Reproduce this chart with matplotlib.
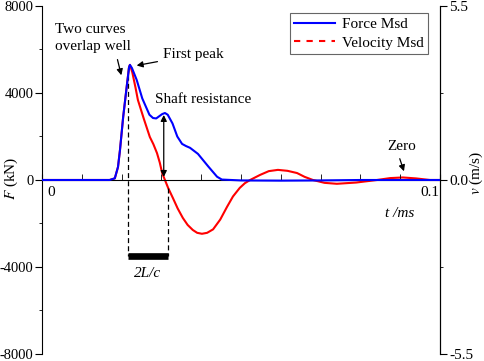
import matplotlib
matplotlib.use("Agg")
import matplotlib.pyplot as plt
from matplotlib.lines import Line2D
from matplotlib.ticker import MultipleLocator
from matplotlib.transforms import ScaledTranslation

plt.rcParams['font.family'] = ['Liberation Serif', 'DejaVu Serif']
plt.rcParams['mathtext.fontset'] = 'stix'
plt.rcParams['axes.unicode_minus'] = False
plt.rcParams['font.size'] = 11

# force curve (kN)
t_force = [0, 0.017, 0.0183, 0.0191, 0.0196, 0.0204, 0.0214, 0.0219, 0.0221, 0.0226,
           0.0238, 0.0252, 0.027, 0.0279, 0.0287, 0.0302, 0.0309, 0.0316, 0.0328,
           0.034, 0.0352, 0.0362, 0.0372, 0.0392, 0.0418, 0.044, 0.0452, 0.05, 0.06,
           0.07, 0.08, 0.09, 0.1]
force = [0, 0, 80, 600, 1380, 2900, 4460, 5200, 5290, 5150,
         4600, 3750, 3000, 2850, 2830, 3030, 3080, 3000, 2600,
         2000, 1660, 1560, 1480, 1200, 620, 150, 20, -20, -30,
         -20, 0, 0, 0]

# velocity curve (m/s)
t_vel = [0, 0.017, 0.0183, 0.0191, 0.0196, 0.0204, 0.0214, 0.0219, 0.0221, 0.0227,
         0.0235, 0.0241, 0.0256, 0.0271, 0.028, 0.0289, 0.0296, 0.0302, 0.0309,
         0.0317, 0.0329, 0.0341, 0.0354, 0.0366, 0.0379, 0.039, 0.0402, 0.0415,
         0.043, 0.0448, 0.0465, 0.048, 0.0497, 0.051, 0.0523, 0.0548, 0.057, 0.0593,
         0.0617, 0.0641, 0.066, 0.0681, 0.071, 0.0741, 0.079, 0.0842, 0.0875,
         0.0907, 0.094, 0.0975, 0.1]
vel = [0, 0, 0.05, 0.41, 0.95, 1.99, 3.07, 3.58, 3.64, 3.40,
       2.92, 2.53, 1.93, 1.36, 1.13, 0.85, 0.55, 0.22, 0.0,
       -0.25, -0.57, -0.9, -1.2, -1.42, -1.58, -1.67, -1.7, -1.67,
       -1.56, -1.25, -0.85, -0.52, -0.25, -0.1, 0.0, 0.16, 0.28, 0.32,
       0.29, 0.22, 0.1, 0.0, -0.09, -0.12, -0.08, 0.0, 0.06,
       0.08, 0.05, 0.0, 0.0]

fig = plt.figure(figsize=(4.84, 3.61), dpi=100)
ax = fig.add_axes([0.0868, 0.0194, 0.822, 0.964])
ax2 = ax.twinx()

ax.plot(t_force, force, color='blue', lw=1.5, zorder=3)
ax2.plot(t_vel, vel, color='red', lw=1.5, zorder=4)

ax.set_xlim(0, 0.1)
ax.set_ylim(-8000, 8000)
ax2.set_ylim(-5.5, 5.5)

# x axis through zero
ax.spines['top'].set_visible(False)
ax.spines['bottom'].set_position(('data', 0))
ax2.spines['top'].set_visible(False)
ax2.spines['bottom'].set_visible(False)
ax2.spines['left'].set_visible(False)
ax.set_zorder(ax2.get_zorder() + 1)
ax.patch.set_visible(False)

ax.set_xticks([0, 0.1], ['0', '0.1'])
ax.xaxis.set_minor_locator(MultipleLocator(0.01))
ax.tick_params(axis='x', which='both', direction='in', length=4, pad=4)
labs = ax.get_xticklabels()
labs[0].set_ha('left')
labs[0].set_transform(labs[0].get_transform() + ScaledTranslation(4 / 72, 0, fig.dpi_scale_trans))
labs[1].set_ha('right')

ax.set_yticks([-8000, -4000, 0, 4000, 8000])
ax.yaxis.set_minor_locator(MultipleLocator(2000))
ax.tick_params(axis='y', which='major', direction='out', length=5, pad=1, labelsize=10.5)
ax.tick_params(axis='y', which='minor', direction='out', length=2.5)
ax2.set_yticks([-5.5, 0, 5.5], ['-5.5', '0.0', '5.5'])
ax2.yaxis.set_minor_locator(MultipleLocator(2.75))
ax2.tick_params(axis='y', which='major', direction='out', length=5, pad=1.5)
ax2.tick_params(axis='y', which='minor', direction='out', length=2.5)

ax.set_ylabel('$F$ (kN)')
ax.yaxis.set_label_coords(-0.055, 0.506)
ax2.set_ylabel('$v$ (m/s)')
ax2.yaxis.set_label_coords(1.07, 0.52)

ax.text(0.09, -1520, 't /ms', style='italic', ha='center', va='center')

# 2L/c marker
ax.plot([0.0217, 0.0217], [5200, -3500], color='black', ls='--', lw=0.9, dashes=(4, 2.5))
ax.plot([0.0317, 0.0317], [-370, -3500], color='black', ls='--', lw=0.9, dashes=(4, 2.5))
ax.plot([0.0217, 0.0317], [-3500, -3500], color='black', lw=4.8, solid_capstyle='butt')
ax.text(0.0266, -4300, '2L/c', style='italic', ha='center', va='center')

arw = dict(arrowstyle='-|>', color='black', lw=0.9, mutation_scale=9)
ax.annotate('Two curves\noverlap well', xy=(0.0201, 4690), xytext=(0.0033, 6530),
            ha='left', va='center', linespacing=1.35)
ax.annotate('', xy=(0.0201, 4690), xytext=(0.0188, 5660), arrowprops=arw)
ax.annotate('First peak', xy=(0.0231, 5240), xytext=(0.0304, 5750),
            ha='left', va='center', arrowprops=arw)
ax.text(0.0284, 3680, 'Shaft resistance', ha='left', va='center')
ax.annotate('', xy=(0.0306, 140), xytext=(0.0306, 2990),
            arrowprops=dict(arrowstyle='<|-|>', color='black', lw=0.9,
                            mutation_scale=9, shrinkA=0, shrinkB=0))
ax.annotate('Zero', xy=(0.0912, 280), xytext=(0.0905, 1520),
            ha='center', va='center')
ax.annotate('', xy=(0.0912, 280), xytext=(0.0897, 1100), arrowprops=arw)

handles = [Line2D([], [], color='blue', lw=1.5),
           Line2D([], [], color='red', lw=1.5, ls='--', dashes=(3, 3))]
leg = ax.legend(handles, ['Force Msd', 'Velocity Msd'], loc='upper right',
                bbox_to_anchor=(0.97, 0.98), fancybox=False, edgecolor='0.4',
                framealpha=1, handlelength=2.7, borderpad=0.3, labelspacing=0.3,
                handletextpad=0.4, borderaxespad=0)
leg.get_frame().set_linewidth(0.8)

fig.savefig('out.png', dpi=100)
